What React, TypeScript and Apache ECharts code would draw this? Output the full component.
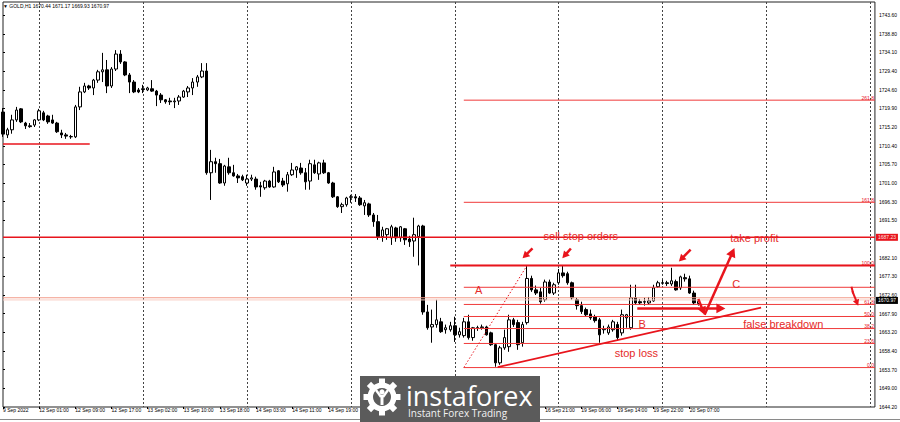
import React, { useEffect, useRef } from "react";
import * as echarts from "echarts";

// ---------- time axis ----------
const sessions = [
  { day: "9 Sep", from: 16, to: 23 },
  { day: "12 Sep", from: 1, to: 23 },
  { day: "13 Sep", from: 1, to: 23 },
  { day: "14 Sep", from: 1, to: 23 },
  { day: "15 Sep", from: 1, to: 23 },
  { day: "16 Sep", from: 1, to: 23 },
  { day: "19 Sep", from: 1, to: 23 },
  { day: "20 Sep", from: 1, to: 23 },
  { day: "21 Sep", from: 1, to: 23 },
  { day: "22 Sep", from: 1, to: 2 },
];
const categories: string[] = [];
sessions.forEach((s) => {
  for (let h = s.from; h <= s.to; h++) categories.push(`${s.day} ${String(h).padStart(2, "0")}:00`);
});
const FIRST_LABEL = "9 Sep 2022";
// time labels covered by the broker watermark in the reference
const COVERED_FROM = 73;
const COVERED_TO = 119;

// ---------- GOLD H1 candles ----------
const opens = [
  1719.0, 1713.2, 1714.5, 1717.0, 1719.8, 1716.2, 1715.5, 1715.7, 1717.0, 1718.8,
  1718.0, 1717.0, 1716.2, 1713.7, 1713.2, 1712.7, 1712.7, 1720.3, 1724.1, 1725.6,
  1725.1, 1727.1, 1729.2, 1729.7, 1725.6, 1729.9, 1733.7, 1731.7, 1728.4, 1726.6,
  1724.6, 1724.9, 1724.6, 1724.9, 1724.3, 1723.3, 1722.1, 1721.8, 1721.6, 1721.8,
  1722.8, 1724.1, 1725.1, 1726.6, 1727.9, 1729.4, 1703.6, 1706.4, 1705.9, 1701.0,
  1705.1, 1703.6, 1702.8, 1702.6, 1701.0, 1702.0, 1702.0, 1700.3, 1699.8, 1701.5,
  1700.0, 1704.1, 1701.5, 1700.8, 1703.1, 1704.3, 1704.8, 1703.6, 1701.5, 1705.6,
  1703.3, 1706.1, 1703.6, 1701.0, 1697.5, 1695.0, 1695.5, 1697.5, 1697.5, 1697.2,
  1695.2, 1695.7, 1692.9, 1691.2, 1687.4, 1687.9, 1687.1, 1689.6, 1687.1, 1689.4,
  1686.8, 1686.3, 1687.4, 1690.1, 1668.3, 1664.5, 1665.1, 1665.8, 1663.8, 1663.8,
  1664.8, 1662.5, 1662.3, 1665.8, 1661.8, 1664.3, 1664.3, 1664.5, 1663.0, 1660.0,
  1655.4, 1659.2, 1659.5, 1666.3, 1665.6, 1660.5, 1665.6, 1676.8, 1673.9, 1673.4,
  1671.4, 1675.9, 1673.1, 1675.7, 1678.2, 1678.0, 1675.7, 1671.4, 1669.9, 1668.9,
  1667.8, 1667.1, 1666.3, 1663.8, 1663.0, 1663.8, 1665.1, 1663.0, 1666.8, 1664.3,
  1671.9, 1670.9, 1670.9, 1670.6, 1671.1, 1674.7, 1675.7, 1675.7, 1675.4, 1676.0,
  1674.4, 1677.0, 1676.7, 1673.1, 1670.44,
];
const closes = [
  1713.4, 1714.5, 1717.0, 1719.5, 1716.5, 1715.5, 1715.3, 1717.0, 1719.3, 1717.0,
  1716.5, 1716.2, 1714.0, 1713.2, 1712.9, 1712.8, 1720.3, 1724.1, 1725.6, 1725.1,
  1727.1, 1729.2, 1729.7, 1725.6, 1729.9, 1733.7, 1731.7, 1728.4, 1726.6, 1724.1,
  1724.1, 1724.7, 1725.1, 1724.3, 1723.3, 1722.1, 1721.6, 1721.6, 1721.8, 1722.8,
  1724.3, 1725.1, 1726.6, 1727.9, 1729.4, 1703.6, 1706.4, 1705.9, 1701.0, 1705.3,
  1703.6, 1702.8, 1702.3, 1701.8, 1702.0, 1702.3, 1700.0, 1700.0, 1701.5, 1700.0,
  1703.8, 1701.3, 1700.5, 1703.1, 1704.3, 1705.1, 1703.6, 1701.3, 1705.9, 1703.6,
  1706.1, 1703.6, 1701.0, 1697.5, 1695.0, 1695.5, 1697.2, 1697.4, 1697.2, 1695.5,
  1696.0, 1692.9, 1691.2, 1687.4, 1689.1, 1689.4, 1689.9, 1687.1, 1689.9, 1686.6,
  1686.1, 1687.9, 1690.1, 1668.3, 1664.3, 1665.1, 1666.3, 1663.3, 1664.3, 1664.8,
  1662.5, 1663.3, 1665.8, 1661.8, 1664.3, 1664.2, 1664.5, 1662.5, 1660.0, 1655.4,
  1659.2, 1661.8, 1666.3, 1665.1, 1660.0, 1665.1, 1676.8, 1673.9, 1673.1, 1670.9,
  1675.9, 1673.1, 1675.2, 1678.2, 1677.5, 1675.7, 1671.9, 1669.9, 1668.4, 1667.6,
  1666.8, 1666.1, 1662.5, 1664.0, 1664.5, 1665.8, 1661.8, 1667.6, 1667.6, 1671.9,
  1670.6, 1670.6, 1670.8, 1671.1, 1674.4, 1675.7, 1675.6, 1675.5, 1676.2, 1673.9,
  1677.2, 1676.7, 1673.1, 1670.6, 1670.97,
];
const highs = [
  1720.0, 1715.0, 1718.3, 1720.3, 1720.0, 1716.5, 1716.2, 1717.2, 1719.8, 1719.3,
  1718.3, 1718.3, 1716.5, 1714.5, 1713.7, 1713.2, 1720.8, 1725.4, 1726.4, 1725.9,
  1727.4, 1729.7, 1734.0, 1732.2, 1730.4, 1734.7, 1734.7, 1731.9, 1728.9, 1727.1,
  1725.1, 1725.9, 1725.4, 1727.1, 1724.6, 1723.8, 1722.3, 1722.6, 1722.6, 1723.3,
  1724.6, 1725.6, 1727.6, 1728.4, 1731.4, 1731.4, 1709.4, 1707.4, 1707.1, 1705.6,
  1707.4, 1705.6, 1703.3, 1703.1, 1703.1, 1703.1, 1702.6, 1701.3, 1701.8, 1701.8,
  1705.1, 1704.3, 1702.3, 1703.8, 1706.1, 1705.3, 1706.1, 1704.8, 1706.9, 1706.9,
  1706.4, 1706.9, 1703.8, 1701.3, 1697.7, 1696.0, 1697.5, 1698.0, 1698.2, 1697.7,
  1696.7, 1696.0, 1693.4, 1692.9, 1689.9, 1689.6, 1690.4, 1689.9, 1690.1, 1689.6,
  1687.6, 1692.2, 1690.4, 1690.4, 1670.1, 1668.9, 1671.4, 1666.8, 1665.1, 1665.8,
  1667.1, 1664.3, 1666.8, 1667.6, 1664.5, 1664.8, 1665.1, 1664.8, 1663.3, 1660.2,
  1659.7, 1663.8, 1667.6, 1666.8, 1666.3, 1665.8, 1680.1, 1677.5, 1675.0, 1674.4,
  1676.5, 1676.5, 1675.7, 1679.2, 1680.0, 1678.5, 1676.0, 1671.9, 1670.9, 1669.4,
  1668.9, 1667.6, 1666.8, 1664.8, 1665.1, 1666.3, 1665.8, 1668.9, 1667.8, 1675.2,
  1675.2, 1671.6, 1671.9, 1672.1, 1675.2, 1676.2, 1676.5, 1676.2, 1679.5, 1676.5,
  1677.5, 1678.0, 1677.5, 1673.7, 1671.17,
];
const lows = [
  1712.7, 1712.4, 1713.5, 1716.5, 1716.2, 1714.7, 1715.0, 1715.2, 1716.7, 1716.7,
  1716.0, 1716.0, 1713.7, 1712.4, 1712.2, 1712.2, 1712.4, 1719.5, 1723.8, 1724.6,
  1723.3, 1726.4, 1726.6, 1723.8, 1725.1, 1729.4, 1731.2, 1728.1, 1723.8, 1723.8,
  1723.8, 1723.8, 1724.3, 1724.1, 1720.5, 1721.3, 1721.1, 1720.8, 1720.0, 1720.8,
  1722.6, 1722.8, 1723.3, 1725.4, 1727.6, 1703.1, 1696.7, 1703.6, 1700.8, 1700.3,
  1703.1, 1702.6, 1701.0, 1701.5, 1700.3, 1701.5, 1699.3, 1697.5, 1699.3, 1699.8,
  1699.8, 1701.0, 1700.0, 1698.8, 1702.8, 1702.3, 1703.1, 1699.3, 1699.3, 1703.3,
  1701.8, 1703.3, 1700.8, 1697.2, 1694.7, 1693.4, 1695.0, 1696.0, 1696.2, 1695.2,
  1692.9, 1692.4, 1689.9, 1686.6, 1686.1, 1686.6, 1685.3, 1686.1, 1686.1, 1685.3,
  1684.8, 1682.3, 1680.1, 1667.6, 1663.8, 1660.5, 1664.3, 1663.0, 1662.8, 1663.3,
  1660.7, 1661.8, 1661.8, 1661.3, 1661.0, 1663.5, 1663.8, 1662.3, 1659.7, 1654.4,
  1654.9, 1658.7, 1658.2, 1664.5, 1658.7, 1659.5, 1665.1, 1673.4, 1672.6, 1670.4,
  1670.9, 1672.9, 1672.6, 1675.2, 1677.0, 1675.2, 1671.4, 1668.9, 1667.8, 1667.1,
  1666.3, 1665.6, 1660.5, 1662.8, 1662.5, 1663.3, 1661.0, 1662.3, 1664.3, 1663.8,
  1670.1, 1670.1, 1669.9, 1670.1, 1670.9, 1674.4, 1675.2, 1674.9, 1674.9, 1673.7,
  1673.9, 1676.0, 1672.9, 1670.1, 1669.93,
];

// ---------- price axis ----------
const yTicks = [
  1644.2, 1649.0, 1653.7, 1658.4, 1663.2, 1667.9, 1672.6, 1677.3, 1682.1, 1691.5,
  1696.3, 1701.0, 1705.7, 1710.4, 1715.2, 1719.9, 1724.6, 1729.4, 1734.1, 1738.8, 1743.6,
];
const Y_MIN = 1644.2;
const Y_MAX = 1746.9;

// ---------- levels ----------
const KEY_LEVEL = 1687.23;
const FIB_LOW = 1654.2;
const FIB_HIGH = 1680.1;
const fibRatios = [0, 0.236, 0.382, 0.5, 0.618, 0.786, 1.0, 1.618, 2.618];
const fibLabels = ["0.0", "23.6", "38.2", "50.0", "61.8", "", "100.0", "161.8", "261.8"];
const FIB_START = 102;

// ---------- annotations (in bar-index / price coordinates) ----------
const RED = "#e8141c";
const annotations = [
  { from: [0, 1710.9], to: [19.2, 1710.9], color: RED, width: 1.5, dash: false, head: 0 },
  { from: [0, KEY_LEVEL], to: [193, KEY_LEVEL], color: RED, width: 1.6, dash: false, head: 0 },
  { from: [0, 1671.9], to: [193, 1671.9], color: "#f29a88", width: 1, dash: false, head: 0 },
  { from: [0, 1671.35], to: [193, 1671.35], color: "#f8cdc3", width: 1, dash: false, head: 0 },
  { from: [99, FIB_HIGH], to: [193, FIB_HIGH], color: RED, width: 2, dash: false, head: 0 },
  { from: [109.5, 1654.3], to: [167.8, 1669.4], color: RED, width: 1.8, dash: false, head: 0 },
  { from: [102, FIB_LOW], to: [116, FIB_HIGH], color: RED, width: 1, dash: true, head: 0 },
  { from: [117.2, 1684.4], to: [115.0, 1681.9], color: RED, width: 2.5, dash: false, head: 7 },
  { from: [125.7, 1684.4], to: [123.8, 1681.9], color: RED, width: 2.5, dash: false, head: 7 },
  { from: [152.2, 1684.1], to: [149.6, 1681.1], color: RED, width: 2.5, dash: false, head: 7 },
  { from: [140.4, 1669.2], to: [159.9, 1669.2], color: RED, width: 2.5, dash: false, head: 9 },
  { from: [153.9, 1671.6], to: [155.3, 1667.6], color: RED, width: 2.5, dash: false, head: 8 },
  { from: [155.3, 1667.6], to: [161.9, 1684.5], color: RED, width: 2.5, dash: false, head: 9 },
  { from: [187.8, 1674.7], to: [188.2, 1673.0], color: RED, width: 2, dash: false, head: 0 },
  { from: [188.0, 1673.6], to: [189.3, 1669.9], color: RED, width: 2, dash: false, head: 6 },
];
const notes = [
  { at: [127.9, 1687.6], text: "sell stop orders" },
  { at: [166.3, 1687.0], text: "take profit" },
  { at: [162.3, 1675.4], text: "C" },
  { at: [105.3, 1673.9], text: "A" },
  { at: [141.5, 1665.3], text: "B" },
  { at: [172.7, 1665.2], text: "false breakdown" },
  { at: [140.2, 1657.9], text: "stop loss" },
];

const FONT = '"Liberation Sans", Arial, sans-serif';

export default function App() {
  const ref = useRef<HTMLDivElement>(null);

  useEffect(() => {
    document.body.style.margin = "0";
    const chart = echarts.init(ref.current as HTMLDivElement, null, { renderer: "svg" });
    const lastIdx = categories.length - 1;
    const nBars = opens.length;
    const candleData = opens.map((o, i) => [o, closes[i], lows[i], highs[i]]);
    const labelShown = (i: number) =>
      i === 0 || (i >= 8 && (i - 8) % 8 === 0 && i < nBars && (i < COVERED_FROM || i > COVERED_TO));
    const fibLevels = fibRatios.map((r) => FIB_LOW + r * (FIB_HIGH - FIB_LOW));
    const last = nBars - 1;
    const header = `\u25BC GOLD,H1 ${opens[last].toFixed(2)} ${highs[last].toFixed(2)} ${lows[last].toFixed(2)} ${closes[last].toFixed(2)}`;

    const segRender = (params: any, api: any) => {
      const s = annotations[params.dataIndex];
      const a = api.coord(s.from);
      const b = api.coord(s.to);
      const children: any[] = [];
      let ex = b[0];
      let ey = b[1];
      if (s.head > 0) {
        const dx = b[0] - a[0];
        const dy = b[1] - a[1];
        const L = Math.hypot(dx, dy) || 1;
        const ux = dx / L;
        const uy = dy / L;
        const hl = s.head;
        const hw = s.head * 0.55;
        const bx = b[0] - ux * hl;
        const by = b[1] - uy * hl;
        ex = bx + ux * 1.5;
        ey = by + uy * 1.5;
        children.push({
          type: "polygon",
          shape: { points: [[b[0], b[1]], [bx - uy * hw, by + ux * hw], [bx + uy * hw, by - ux * hw]] },
          style: { fill: s.color },
        });
      }
      children.unshift({
        type: "line",
        shape: { x1: a[0], y1: a[1], x2: ex, y2: ey },
        style: { stroke: s.color, lineWidth: s.width, lineDash: s.dash ? [1.5, 2] : null },
      });
      return { type: "group", children };
    };

    const fibRender = (params: any, api: any) => {
      const v = fibLevels[params.dataIndex];
      const a = api.coord([FIB_START, v]);
      const b = api.coord([lastIdx, v]);
      const children: any[] = [
        { type: "line", shape: { x1: a[0], y1: a[1], x2: b[0], y2: b[1] }, style: { stroke: "#f03a3a", lineWidth: 1 } },
      ];
      const label = fibLabels[params.dataIndex];
      if (label) {
        children.push({
          type: "text",
          x: b[0] - 1,
          y: b[1],
          style: { text: label, fill: "#e8141c", fontSize: 5, fontFamily: FONT, align: "right", verticalAlign: "bottom" },
        });
      }
      return { type: "group", children };
    };

    const noteRender = (params: any, api: any) => {
      const n = notes[params.dataIndex];
      const p = api.coord(n.at);
      return {
        type: "text",
        x: p[0],
        y: p[1],
        style: { text: n.text, fill: "#e52a2a", fontSize: 11, fontFamily: FONT, align: "center", verticalAlign: "middle" },
      };
    };

    const priceBoxes = [
      { price: KEY_LEVEL, bg: "#e8141c", fg: "#ffe0e0", shift: 0 },
      { price: closes[last], bg: "#000000", fg: "#ffffff", shift: -1 },
    ];
    const boxRender = (params: any, api: any) => {
      const b = priceBoxes[params.dataIndex];
      const p = api.coord([lastIdx, b.price]);
      const y = p[1] + b.shift;
      return {
        type: "group",
        children: [
          { type: "rect", shape: { x: p[0] + 1, y: y - 3.5, width: 22, height: 7 }, style: { fill: b.bg } },
          {
            type: "text",
            x: p[0] + 12,
            y: y,
            style: { text: b.price.toFixed(2), fill: b.fg, fontSize: 5, fontFamily: FONT, align: "center", verticalAlign: "middle" },
          },
        ],
      };
    };

    // watermark (gear logo + brand text), drawn over the chart
    const WM_X = 360;
    const WM_Y = 376;
    const Z = 100;
    const wm: any[] = [
      { type: "rect", z: Z, shape: { x: WM_X, y: WM_Y, width: 180, height: 46 }, style: { fill: "#5b5b5b" } },
    ];
    const gcx = WM_X + 22;
    const gcy = WM_Y + 21;
    for (let k = 0; k < 8; k++) {
      wm.push({
        type: "rect",
        z: Z + 1,
        shape: { x: -3, y: -18.5, width: 6, height: 7 },
        x: gcx,
        y: gcy,
        rotation: (k * Math.PI) / 4,
        style: { fill: "#ffffff" },
      });
    }
    wm.push(
      { type: "ring", z: Z + 1, shape: { cx: gcx, cy: gcy, r: 14.5, r0: 9 }, style: { fill: "#ffffff" } },
      { type: "circle", z: Z + 1, shape: { cx: gcx, cy: gcy - 5, r: 2.6 }, style: { fill: "#ffffff" } },
      { type: "rect", z: Z + 1, shape: { x: gcx - 1.5, y: gcy - 2, width: 3, height: 10 }, style: { fill: "#ffffff" } },
      { type: "line", z: Z + 1, shape: { x1: gcx - 6, y1: gcy - 7, x2: gcx - 1, y2: gcy }, style: { stroke: "#ffffff", lineWidth: 2.4 } },
      { type: "line", z: Z + 1, shape: { x1: gcx + 6, y1: gcy - 7, x2: gcx + 1, y2: gcy }, style: { stroke: "#ffffff", lineWidth: 2.4 } },
      {
        type: "text",
        z: Z + 1,
        x: WM_X + 46,
        y: WM_Y + 31,
        style: { text: "instaforex", fill: "#ffffff", fontSize: 27, lineHeight: 24, fontFamily: '"Open Sans", sans-serif', verticalAlign: "bottom" },
      },
      {
        type: "text",
        z: Z + 1,
        x: WM_X + 48,
        y: WM_Y + 37,
        style: { text: "Instant Forex Trading", fill: "#f2f2f2", fontSize: 10, lineHeight: 10, fontFamily: '"Open Sans", sans-serif', verticalAlign: "middle" },
      }
    );

    chart.setOption({
      animation: false,
      backgroundColor: "#ffffff",
      grid: { left: 1, right: 25, top: 2, bottom: 15, show: true, borderColor: "#222", borderWidth: 1, backgroundColor: "transparent" },
      xAxis: [
        {
          type: "category",
          data: categories,
          boundaryGap: false,
          axisLine: { show: false },
          axisTick: { show: true, interval: (i: number) => labelShown(i), length: 2, lineStyle: { color: "#000" } },
          axisLabel: {
            interval: (i: number) => labelShown(i),
            formatter: (v: string, i: number) => (i === 0 ? FIRST_LABEL : v),
            fontSize: 5,
            color: "#000",
            fontFamily: FONT,
            align: "left",
            margin: 0,
          },
          splitLine: {
            show: true,
            interval: (_i: number, v: string) => v.endsWith(" 01:00"),
            lineStyle: { color: "#444", type: [2, 2], width: 1 },
          },
        },
        { type: "value", min: 0, max: lastIdx, show: false, gridIndex: 0 },
      ],
      yAxis: {
        type: "value",
        position: "right",
        min: Y_MIN,
        max: Y_MAX,
        axisLine: { show: false },
        splitLine: { show: false },
        axisTick: { show: true, customValues: yTicks, length: 2, lineStyle: { color: "#000" } },
        axisLabel: {
          customValues: yTicks,
          formatter: (v: number) => v.toFixed(2),
          fontSize: 5,
          color: "#000",
          fontFamily: FONT,
          margin: 4,
        },
      },
      series: [
        {
          type: "candlestick",
          xAxisIndex: 0,
          yAxisIndex: 0,
          data: candleData,
          barWidth: 3,
          z: 2,
          itemStyle: { color: "#ffffff", color0: "#000000", borderColor: "#000000", borderColor0: "#000000", borderWidth: 1 },
        },
        {
          type: "custom",
          xAxisIndex: 1,
          yAxisIndex: 0,
          z: 3,
          clip: false,
          renderItem: fibRender,
          data: fibLevels.map((v) => [FIB_START, v]),
          encode: { x: 0, y: 1 },
          silent: true,
        },
        {
          type: "custom",
          xAxisIndex: 1,
          yAxisIndex: 0,
          z: 4,
          clip: false,
          renderItem: segRender,
          data: annotations.map((s) => [s.from[0], s.from[1], s.to[0], s.to[1]]),
          encode: { x: [0, 2], y: [1, 3] },
          silent: true,
        },
        {
          type: "custom",
          xAxisIndex: 1,
          yAxisIndex: 0,
          z: 5,
          clip: false,
          renderItem: noteRender,
          data: notes.map((n) => n.at),
          encode: { x: 0, y: 1 },
          silent: true,
        },
        {
          type: "custom",
          xAxisIndex: 1,
          yAxisIndex: 0,
          z: 6,
          clip: false,
          renderItem: boxRender,
          data: priceBoxes.map((b) => [lastIdx, b.price]),
          encode: { x: 0, y: 1 },
          silent: true,
        },
      ],
      graphic: [
        {
          type: "text",
          left: 3,
          top: 3.5,
          z: 50,
          style: { text: header, fill: "#000", fontSize: 5, fontFamily: FONT },
        },
        { type: "line", z: 50, shape: { x1: 0, y1: 419.5, x2: 900, y2: 419.5 }, style: { stroke: "#8a8a8a", lineWidth: 1 } },
        ...wm,
      ],
    });

    return () => chart.dispose();
  }, []);

  return <div ref={ref} style={{ position: "absolute", left: 0, top: 0, width: 900, height: 422, background: "#fff" }} />;
}
